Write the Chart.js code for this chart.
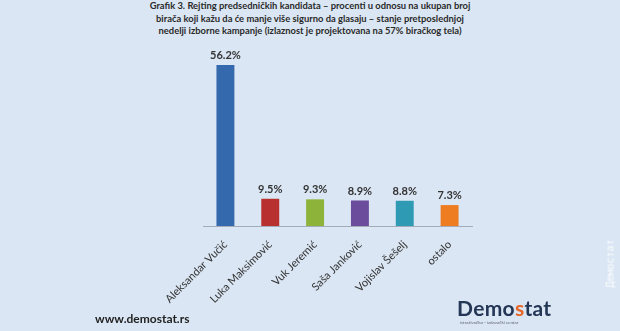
<!DOCTYPE html>
<html>
<head>
<meta charset="utf-8">
<script src="https://cdn.jsdelivr.net/npm/chart.js@4"></script>
<style>
  html, body { margin: 0; padding: 0; }
  body { width: 620px; height: 331px; background: #dae6f3; position: relative; overflow: hidden; font-family: Lato, "Open Sans", sans-serif; }
  #wrap { position: absolute; left: 0; top: 0; width: 620px; height: 331px; }
  .title { position: absolute; top: 0; left: 0; width: 620px; text-align: center; font-weight: bold; font-size: 9.4px; line-height: 12.7px; color: #2a2a2a; }
  .site { position: absolute; left: 95px; top: 311px; font-weight: bold; font-size: 12px; color: #222; }
  .logo { position: absolute; left: 457px; top: 295px; font-weight: bold; font-size: 21px; color: #243656; letter-spacing: 0.3px; }
  .logo span { color: #e8672a; }
  .logo-sub { position: absolute; left: 460px; top: 320px; font-size: 4.5px; color: #667; }
  .wm { position: absolute; left: 586px; top: 258px; transform: rotate(-90deg); font-family: "DejaVu Sans Mono", monospace; font-size: 10px; color: rgba(255,255,255,0.9); }
</style>
</head>
<body>
<div class="title">Grafik 3. Rejting predsedničkih kandidata – procenti u odnosu na ukupan broj<br>birača koji kažu da će manje više sigurno da glasaju – stanje pretposlednjoj<br>nedelji izborne kampanje (izlaznost je projektovana na 57% biračkog tela)</div>
<div id="wrap"><canvas id="chartCanvas"></canvas></div>
<div class="site">www.demostat.rs</div>
<div class="logo">Demo<span>s</span>tat</div>
<div class="logo-sub">istraživačko - izdavački centar</div>
<div class="wm">Демостат</div>
<script>
const candidates = ["Aleksandar Vučić", "Luka Maksimović", "Vuk Jeremić", "Saša Janković", "Vojislav Šešelj", "ostalo"];
const ratings = [56.2, 9.5, 9.3, 8.9, 8.8, 7.3];
const barColors = ["#3569ad", "#b8302f", "#8db33b", "#6b4b9b", "#2f9ab4", "#ee7d22"];

const valueLabels = {
    id: "valueLabels",
    afterDatasetsDraw(chart) {
        const ctx = chart.ctx;
        const meta = chart.getDatasetMeta(0);
        ctx.save();
        ctx.font = "bold 11px Lato, 'Open Sans', sans-serif";
        ctx.fillStyle = "#333";
        ctx.textAlign = "center";
        ctx.textBaseline = "bottom";
        meta.data.forEach((bar, i) => {
            ctx.fillText(ratings[i].toFixed(1) + "%", bar.x, bar.y - 4);
        });
        ctx.restore();
    }
};

const ctx = document.getElementById('chartCanvas').getContext('2d');
new Chart(ctx, {
    type: "bar",
    data: {
        labels: candidates,
        datasets: [{
            data: ratings,
            backgroundColor: barColors,
            barPercentage: 0.8,
            categoryPercentage: 0.5
        }]
    },
    options: {
        responsive: true,
        maintainAspectRatio: false,
        animation: false,
        layout: { padding: { left: 203, right: 148, top: 54, bottom: 0 } },
        plugins: { legend: { display: false }, tooltip: { enabled: false } },
        scales: {
            y: { display: false, min: 0, max: 60 },
            x: {
                grid: { display: false },
                border: { display: true, color: "#a3acb8", width: 1 },
                ticks: {
                    minRotation: 45, maxRotation: 45,
                    color: "#333",
                    padding: 4,
                    font: { family: "Lato, 'Open Sans', sans-serif", size: 11 }
                },
                afterFit(axis) { axis.height = 105; }
            }
        }
    },
    plugins: [valueLabels]
});
</script>
</body>
</html>
